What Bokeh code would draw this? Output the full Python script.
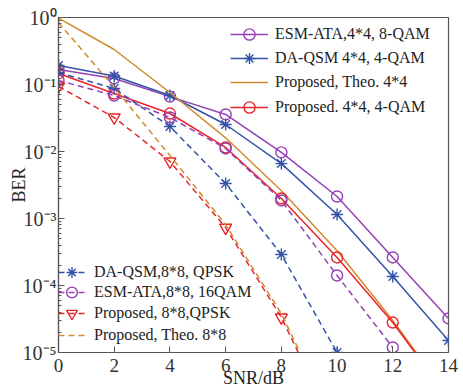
from bokeh.plotting import figure
from bokeh.models import (Range1d, FixedTicker, LogTicker, CustomJSTickFormatter,
                          Legend, LegendItem)
from bokeh.embed import file_html
from bokeh.resources import INLINE

# ---------------- data ----------------
snr_44 = [0, 2, 4, 6, 8, 10, 12, 14]
ber_esm_44 = [0.167, 0.123, 0.066, 0.0357, 0.0097, 0.00213, 2.62e-4, 3.22e-5]
ber_daqsm_44 = [0.192, 0.134, 0.0685, 0.0253, 0.0066, 0.00115, 1.36e-4, 1.51e-5]
ber_theo_44 = [0.98, 0.333, 0.076, 0.016, 0.0026, 3.3e-4, 3.0e-5, 2.2e-6]
ber_prop_44 = [0.146, 0.0734, 0.0369, 0.0115, 0.00199, 2.62e-4, 2.8e-5, 2.1e-6]

snr_daqsm_88 = [0, 2, 4, 6, 8, 10]
ber_daqsm_88 = [0.151, 0.087, 0.0236, 0.00333, 2.9e-4, 1.0e-5]
snr_esm_88 = [0, 2, 4, 6, 8, 10, 12]
ber_esm_88 = [0.115, 0.0685, 0.0322, 0.0111, 0.00186, 1.41e-4, 1.19e-5]
snr_prop_88 = [0, 2, 4, 6, 8, 10]
ber_prop_88 = [0.0934, 0.0322, 0.0071, 7.3e-4, 3.33e-5, 6.4e-7]
snr_theo_88 = [0, 2, 4, 6, 8, 10]
ber_theo_88 = [0.84, 0.090, 0.0087, 8.1e-4, 3.8e-5, 7e-7]

x_ticks = [0, 2, 4, 6, 8, 10, 12, 14]
y_tick_labels = ["10\u2070", "10\u207b\u00b9", "10\u207b\u00b2", "10\u207b\u00b3",
                 "10\u207b\u2074", "10\u207b\u2075"]
x_title = "SNR/dB"
y_title = "BER"

labels_top = ["ESM-ATA,4*4, 8-QAM", "DA-QSM 4*4, 4-QAM", "Proposed, Theo. 4*4", " ",
              "Proposed. 4*4, 4-QAM"]
labels_bottom = ["DA-QSM,8*8, QPSK", "ESM-ATA,8*8, 16QAM", "Proposed, 8*8,QPSK",
                 "Proposed, Theo. 8*8"]

# ---------------- style ----------------
PURPLE = "#9440B4"
BLUE = "#3253A8"
ORANGE = "#D18B2C"
RED = "#E8252A"
FONT = "Liberation Serif"
DASH = "6 4"

FL, FT, FW, FH = 58, 17, 390, 335

p = figure(width=463, height=392, output_backend="svg", toolbar_location=None,
           y_axis_type="log", x_range=Range1d(0, 14), y_range=Range1d(1e-5, 1),
           min_border_left=FL, min_border_top=FT, min_border_right=463 - FL - FW,
           min_border_bottom=392 - FT - FH)
p.background_fill_color = "white"
p.border_fill_color = "white"
p.outline_line_color = "#555555"
p.outline_line_width = 1.2
p.grid.visible = False

xa = p.xaxis[0]
xa.ticker = FixedTicker(ticks=x_ticks)
xa.axis_label = x_title
ya = p.yaxis[0]
ya.ticker = LogTicker(num_minor_ticks=10)
ya.formatter = CustomJSTickFormatter(args=dict(labels=y_tick_labels),
                                     code="const k = Math.round(-Math.log10(tick)); return (k >= 0 && k < labels.length) ? labels[k] : '';")
ya.axis_label = y_title
for ax in (xa, ya):
    ax.axis_line_color = "#555555"
    ax.axis_line_width = 1.2
    ax.major_tick_in = 6
    ax.major_tick_out = 0
    ax.minor_tick_in = 3
    ax.minor_tick_out = 0
    ax.major_tick_line_color = "#555555"
    ax.minor_tick_line_color = "#555555"
    ax.major_label_text_font = FONT
    ax.major_label_text_font_size = "19px"
    ax.major_label_text_color = "#333333"
    ax.axis_label_text_font = FONT
    ax.axis_label_text_font_size = "18px"
    ax.axis_label_text_font_style = "normal"
    ax.axis_label_text_color = "#222222"
xa.minor_tick_line_color = None
xa.major_label_standoff = 6
xa.axis_label_standoff = -7
ya.major_label_text_font_size = "20px"
ya.major_label_standoff = 2
ya.axis_label_standoff = -9


def series(x, y, color, dash, marker=None, msize=11):
    rs = [p.line(x, y, line_color=color, line_width=1.5, line_dash=dash)]
    if marker is not None:
        rs.append(p.scatter(x, y, marker=marker, size=msize, fill_color=None,
                            line_color=color, line_width=1.4))
    return rs


r_esm44 = series(snr_44, ber_esm_44, PURPLE, "solid", "circle", 11)
r_da44 = series(snr_44, ber_daqsm_44, BLUE, "solid", "asterisk", 12)
r_th44 = series(snr_44, ber_theo_44, ORANGE, "solid")
r_pr44 = series(snr_44, ber_prop_44, RED, "solid", "circle", 11)
r_da88 = series(snr_daqsm_88, ber_daqsm_88, BLUE, DASH, "asterisk", 12)
r_esm88 = series(snr_esm_88, ber_esm_88, PURPLE, DASH, "circle", 11)
r_pr88 = series(snr_prop_88, ber_prop_88, RED, DASH, "inverted_triangle", 12)
r_th88 = series(snr_theo_88, ber_theo_88, ORANGE, DASH)
r_th44_dash_key = p.line([], [], line_color=ORANGE, line_width=1.5, line_dash=DASH)


def add_key(renderers, label, gx, gy, gw, standoff, row_h=28):
    leg = Legend(items=[LegendItem(label=label, renderers=renderers)],
                 location=(gx - FL, FT + FH - (gy + row_h / 2)),
                 padding=0, margin=0, spacing=0, label_height=row_h, glyph_height=row_h,
                 glyph_width=gw, label_standoff=standoff,
                 background_fill_alpha=0, border_line_color=None,
                 label_text_font=FONT, label_text_font_size="16px",
                 label_text_color="#222222")
    p.add_layout(leg)


top_keys = [r_esm44, r_da44, r_th44, [r_th44_dash_key], r_pr44]
top_y = [34, 58, 82, 97, 107]
for rs, lab, yy in zip(top_keys, labels_top, top_y):
    add_key(rs, lab, 230, yy, 38, 7)

bot_keys = [r_da88, r_esm88, r_pr88, r_th88]
bot_y = [272, 292, 313, 335]
for rs, lab, yy in zip(bot_keys, labels_bottom, bot_y):
    add_key(rs, lab, 58, yy, 27, 9)

open("out.html", "w").write(file_html(p, INLINE))
